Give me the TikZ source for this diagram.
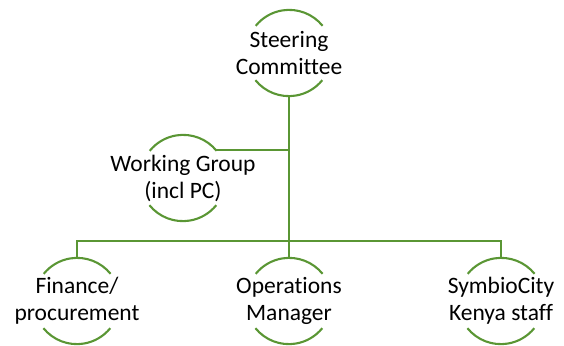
\documentclass[tikz,border=0pt]{standalone}
\usepackage{fontspec}
\setmainfont{Carlito}[Ligatures=NoCommon, Contextuals=NoAlternate]
\usepackage{tikz}

\definecolor{leaf}{RGB}{90,150,52}

\begin{document}
\begin{tikzpicture}
        [
            x = 1pt, y = -1pt,
            unit/.style = {circle, draw=none, minimum size=86pt, inner sep=0pt},
            caption/.style = {align=center, font=\fontsize{23.5}{27}\selectfont},
            link/.style = {draw=leaf, line width=2.4pt},
            rim/.style = {draw=leaf, line width=2.1pt}
        ]
        \useasboundingbox (0, 0) rectangle (564, 345);

        \node [unit] at (289, 53) (steer) {};
        \node [unit] at (183, 178) (group) {};
        \node [unit] at (77, 301) (finance) {};
        \node [unit] at (289, 301) (ops) {};
        \node [unit] at (501, 301) (staff) {};

        \node [caption] at (steer) (steertext) {Steering\\Committee};
        \node [caption] at (group) (grouptext) {Working Group\\(incl PC)};
        \node [caption] at (finance) (financetext) {Finance/\\procurement};
        \node [caption] at (ops) (opstext) {Operations\\Manager};
        \node [caption] at (staff) (stafftext) {SymbioCity\\Kenya staff};

        % top and bottom arcs of each circle
        \foreach \n in {steer, group, finance, ops, staff}
        {
            \draw[rim] (\n.39) arc[start angle=39, end angle=141, radius=43pt];
            \draw[rim] (\n.219) arc[start angle=219, end angle=321, radius=43pt];
        }

        \coordinate (bus) at (289, 241);

        \draw[link] (steer.south) -- (ops.north);
        \draw[link] (group.40) -- (group.40 -| steer.south);
        \draw[link] (finance.north) |- (bus) -| (staff.north);
    \end{tikzpicture}
\end{document}
